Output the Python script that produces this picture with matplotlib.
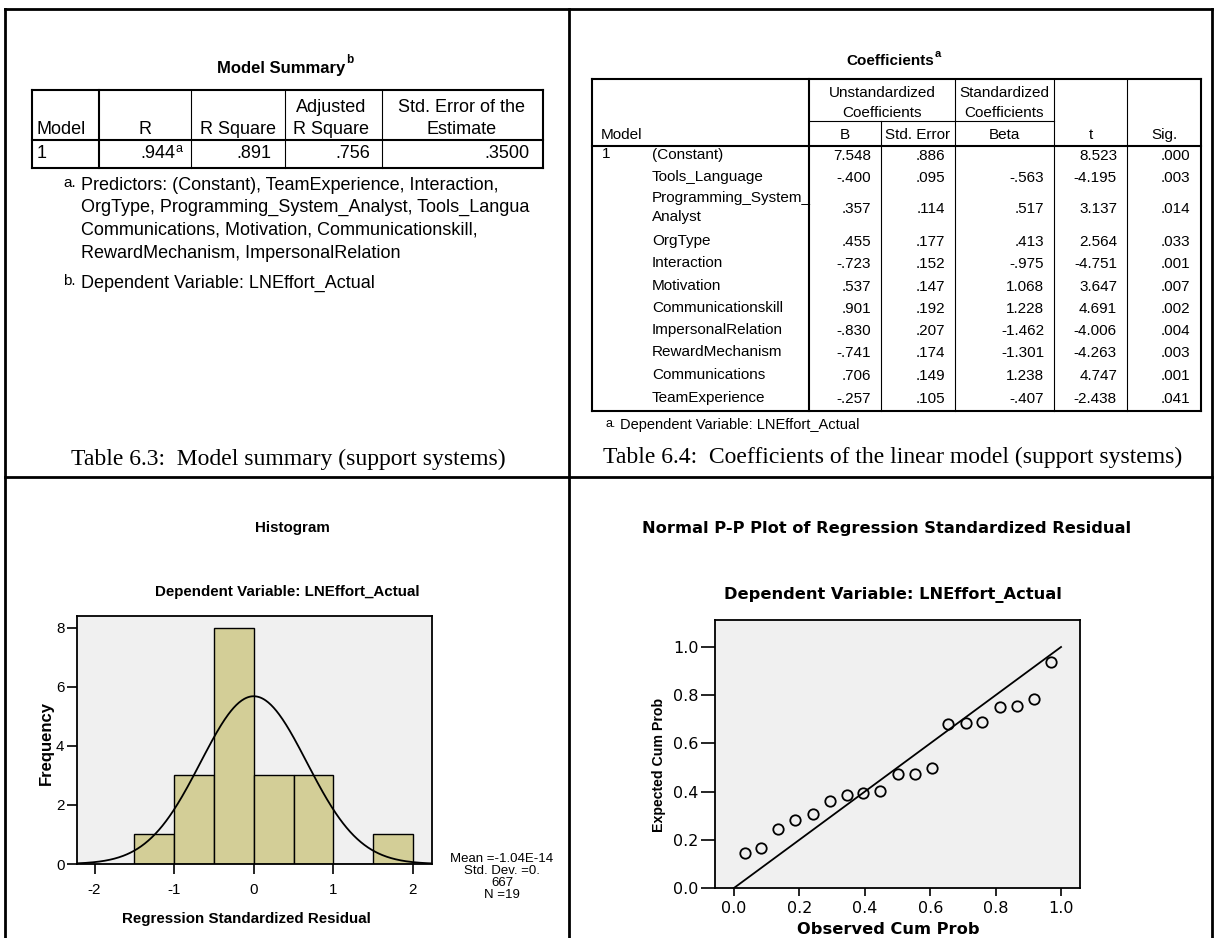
import numpy as np
import matplotlib
matplotlib.use('Agg')
import matplotlib.pyplot as plt
from matplotlib import font_manager
from matplotlib.ticker import FormatStrFormatter

plt.rcParams['axes.unicode_minus'] = False

# ---- data: model summary table ----
ms_model = '1'
ms_r = '.944'
ms_r_sq = '.891'
ms_adj_r_sq = '.756'
ms_se = '.3500'
ms_note_a = ['Predictors: (Constant), TeamExperience, Interaction,',
             'OrgType, Programming_System_Analyst, Tools_Langua',
             'Communications, Motivation, Communicationskill,',
             'RewardMechanism, ImpersonalRelation']
ms_note_b = 'Dependent Variable: LNEffort_Actual'

# ---- data: coefficients table ----
coef_names = ['(Constant)', 'Tools_Language', 'Programming_System_\nAnalyst', 'OrgType',
              'Interaction', 'Motivation', 'Communicationskill', 'ImpersonalRelation',
              'RewardMechanism', 'Communications', 'TeamExperience']
coef_b = ['7.548', '-.400', '.357', '.455', '-.723', '.537', '.901', '-.830', '-.741', '.706', '-.257']
coef_se = ['.886', '.095', '.114', '.177', '.152', '.147', '.192', '.207', '.174', '.149', '.105']
coef_beta = ['', '-.563', '.517', '.413', '-.975', '1.068', '1.228', '-1.462', '-1.301', '1.238', '-.407']
coef_t = ['8.523', '-4.195', '3.137', '2.564', '-4.751', '3.647', '4.691', '-4.006', '-4.263', '4.747', '-2.438']
coef_sig = ['.000', '.003', '.014', '.033', '.001', '.007', '.002', '.004', '.003', '.001', '.041']

# ---- data: histogram of residuals ----
bin_left = [-1.5, -1.0, -0.5, 0.0, 0.5, 1.0, 1.5]
bin_count = [1, 3, 8, 3, 3, 0, 1]
bin_width = 0.5
resid_mean = -1.04e-14
resid_sd = 0.667
n_obs = 19

# ---- data: normal P-P plot ----
obs_cum = [0.033, 0.084, 0.136, 0.188, 0.241, 0.293, 0.345, 0.395, 0.448, 0.501,
           0.552, 0.605, 0.655, 0.708, 0.759, 0.813, 0.865, 0.916, 0.970]
exp_cum = [0.145, 0.166, 0.245, 0.281, 0.309, 0.359, 0.384, 0.393, 0.402, 0.472,
           0.475, 0.497, 0.679, 0.683, 0.690, 0.749, 0.756, 0.784, 0.936]

# fonts (SPSS used Arial / Arial Narrow)
names = {f.name for f in font_manager.fontManager.ttflist}
if 'Liberation Sans Narrow' in names:
    NARROW, nscale = 'Liberation Sans Narrow', 1.0
else:
    NARROW, nscale = 'Liberation Sans', 0.87
SANS = 'Liberation Sans'
SERIF = 'Liberation Serif'
PP = 'DejaVu Sans'

W, H = 1215, 938
fig = plt.figure(figsize=(W / 100, H / 100), dpi=100)
bg = fig.add_axes([0, 0, 1, 1])
bg.set_xlim(0, W)
bg.set_ylim(H, 0)
bg.axis('off')

THICK = 1.5
THIN = 0.8


def line(x0, y0, x1, y1, lw=THIN):
    bg.plot([x0, x1], [y0, y1], color='black', lw=lw, solid_capstyle='projecting')


def txt(x, y, s, size=13, ha='left', family=SANS, weight='normal', **kw):
    bg.text(x, y, s, fontsize=size, ha=ha, va='center', family=family, weight=weight, **kw)


# page grid
line(5, 9, 1212, 9, 2)
line(5, 9, 5, H, 2)
line(1212, 9, 1212, H, 2)
line(569, 9, 569, H, 2)
line(5, 477, 1212, 477, 2)

# ---- Model summary table ----
txt(345, 68, 'Model Summary', 12, ha='right', weight='bold')
txt(346, 60, 'b', 8.5, weight='bold')
cx = [32, 99, 191, 285, 382, 543]
top, hb, bot = 90, 140, 168
line(cx[0], top, cx[-1], top, THICK)
line(cx[0], bot, cx[-1], bot, THICK)
line(cx[0], hb, cx[-1], hb, THICK)
line(cx[0], top, cx[0], bot, THICK)
line(cx[-1], top, cx[-1], bot, THICK)
line(cx[1], top, cx[1], bot, THICK)
for x in cx[2:-1]:
    line(x, top, x, bot, THIN)
fs = 13
txt(37, 130, 'Model', fs)
txt(145, 130, 'R', fs, ha='center')
txt(238, 130, 'R Square', fs, ha='center')
txt(331, 107, 'Adjusted', fs, ha='center')
txt(331, 130, 'R Square', fs, ha='center')
txt(462, 107, 'Std. Error of the', fs, ha='center')
txt(462, 130, 'Estimate', fs, ha='center')
txt(37, 153, ms_model, fs)
txt(175, 154, ms_r, fs, ha='right')
txt(176, 149, 'a', 9)
txt(271, 154, ms_r_sq, fs, ha='right')
txt(370, 154, ms_adj_r_sq, fs, ha='right')
txt(529, 154, ms_se, fs, ha='right')
txt(63, 183, 'a.', 11)
for i, s in enumerate(ms_note_a):
    txt(81, 185 + i * 22.7, s, fs)
txt(63, 281, 'b.', 11)
txt(81, 283, ms_note_b, fs)
txt(288, 459, 'Table 6.3:  Model summary (support systems)', 17, ha='center', family=SERIF)

# ---- Coefficients table ----
txt(934, 61, 'Coefficients', 11, ha='right', weight='bold')
txt(935, 54, 'a', 8, weight='bold')
kx = [592, 809, 881, 955, 1054, 1127, 1201]
top, sub, hb, bot = 79, 121, 146, 411
line(kx[0], top, kx[-1], top, THICK)
line(kx[0], bot, kx[-1], bot, THICK)
line(kx[0], hb, kx[-1], hb, THICK)
line(kx[0], top, kx[0], bot, THICK)
line(kx[-1], top, kx[-1], bot, THICK)
line(kx[1], top, kx[1], bot, THICK)
line(kx[1], sub, kx[4], sub, THIN)
line(kx[2], sub, kx[2], bot, THIN)
for x in kx[3:-1]:
    line(x, top, x, bot, THIN)
fk = 11
txt(882, 93, 'Unstandardized', fk, ha='center')
txt(882, 113, 'Coefficients', fk, ha='center')
txt(1004, 93, 'Standardized', fk, ha='center')
txt(1004, 113, 'Coefficients', fk, ha='center')
txt(601, 135, 'Model', fk)
for x0, x1, lab in zip(kx[1:-1], kx[2:], ['B', 'Std. Error', 'Beta', 't', 'Sig.']):
    txt((x0 + x1) / 2, 135, lab, fk, ha='center')
row_y = [155, 177, 208, 241, 263, 286, 308, 330, 352, 375, 398]
txt(602, 154, ms_model, fk)
for y, nm, b, se, be, t, sg in zip(row_y, coef_names, coef_b, coef_se, coef_beta, coef_t, coef_sig):
    parts = nm.split('\n')
    if len(parts) == 2:
        txt(652, y - 10, parts[0], fk)
        txt(652, y + 9, parts[1], fk)
    else:
        txt(652, y, nm, fk)
    for xr, v in zip([871, 945, 1044, 1117, 1190], [b, se, be, t, sg]):
        txt(xr, y + 1, v, fk, ha='right')
txt(606, 424, 'a.', 9)
txt(620, 425, 'Dependent Variable: LNEffort_Actual', 10.5)
txt(893, 457, 'Table 6.4:  Coefficients of the linear model (support systems)', 17, ha='center', family=SERIF)

# ---- Histogram ----
hs = 12.5 * nscale
txt(292, 528, 'Histogram', hs, ha='center', family=NARROW, weight='bold')
txt(287, 592, 'Dependent Variable: LNEffort_Actual', hs, ha='center', family=NARROW, weight='bold')
axh = fig.add_axes([77 / W, (H - 864) / H, (432 - 77) / W, (864 - 616) / H])
axh.set_facecolor('#F0F0F0')
axh.bar(bin_left, bin_count, width=bin_width, align='edge', color='#D3CE97',
        edgecolor='black', linewidth=1.0, zorder=2)
xs = np.linspace(-2.22, 2.24, 400)
ys = n_obs * bin_width / (resid_sd * np.sqrt(2 * np.pi)) * np.exp(-0.5 * ((xs - resid_mean) / resid_sd) ** 2)
axh.plot(xs, ys, color='black', lw=1.3, zorder=3)
axh.set_xlim(-2.22, 2.24)
axh.set_ylim(0, 8.4)
axh.set_xticks([-2, -1, 0, 1, 2])
axh.set_yticks([0, 2, 4, 6, 8])
axh.tick_params(direction='out', length=7, width=1.2, labelsize=12.5 * nscale, pad=2)
axh.tick_params(axis='x', pad=7)
for lab in axh.get_xticklabels() + axh.get_yticklabels():
    lab.set_family(NARROW)
for sp in axh.spines.values():
    sp.set_linewidth(1.3)
axh.set_xlabel('Regression Standardized Residual', fontsize=hs, family=NARROW, weight='bold')
axh.xaxis.set_label_coords((246 - 77) / 355, (864 - 919) / 248)
axh.xaxis.label.set_va('center')
axh.set_ylabel('Frequency', fontsize=12, family=SANS, weight='bold')
axh.yaxis.set_label_coords((46 - 77) / 355, (864 - 743) / 248)
axh.yaxis.label.set_va('center')
txt(502, 877, 'Mean =-1.04E-14\nStd. Dev. =0.\n667\nN =19', 11 * nscale, ha='center',
    family=NARROW, linespacing=1.02, multialignment='center')

# ---- Normal P-P plot ----
pf = 11.7
txt(887, 529, 'Normal P-P Plot of Regression Standardized Residual', pf, ha='center',
    family=PP, weight='bold')
txt(893, 595, 'Dependent Variable: LNEffort_Actual', pf, ha='center', family=PP, weight='bold')
axp = fig.add_axes([715 / W, (H - 888) / H, (1080 - 715) / W, (888 - 620) / H])
axp.set_facecolor('#F0F0F0')
axp.plot([0, 1], [0, 1], color='black', lw=1.3, zorder=2)
axp.plot(obs_cum, exp_cum, 'o', ms=7.5, mfc='none', mec='black', mew=1.3, zorder=3)
axp.set_xlim(-0.058, 1.058)
axp.set_ylim(0, 1.112)
axp.set_xticks([0, 0.2, 0.4, 0.6, 0.8, 1.0])
axp.set_yticks([0, 0.2, 0.4, 0.6, 0.8, 1.0])
axp.xaxis.set_major_formatter(FormatStrFormatter('%.1f'))
axp.yaxis.set_major_formatter(FormatStrFormatter('%.1f'))
axp.tick_params(axis='y', direction='out', length=10, width=1.2, labelsize=11.5, pad=2)
axp.tick_params(axis='x', direction='out', length=5.5, width=1.2, labelsize=11.5, pad=4)
for lab in axp.get_xticklabels() + axp.get_yticklabels():
    lab.set_family(PP)
for sp in axp.spines.values():
    sp.set_linewidth(1.3)
axp.set_xlabel('Observed Cum Prob', fontsize=pf, family=PP, weight='bold')
axp.xaxis.set_label_coords((888 - 715) / 365, (888 - 929) / 268)
axp.xaxis.label.set_va('center')
axp.set_ylabel('Expected Cum Prob', fontsize=10.2, family=SANS, weight='bold')
axp.yaxis.set_label_coords((659 - 715) / 365, (888 - 765) / 268)
axp.yaxis.label.set_va('center')

fig.savefig('out.png', dpi=100)
